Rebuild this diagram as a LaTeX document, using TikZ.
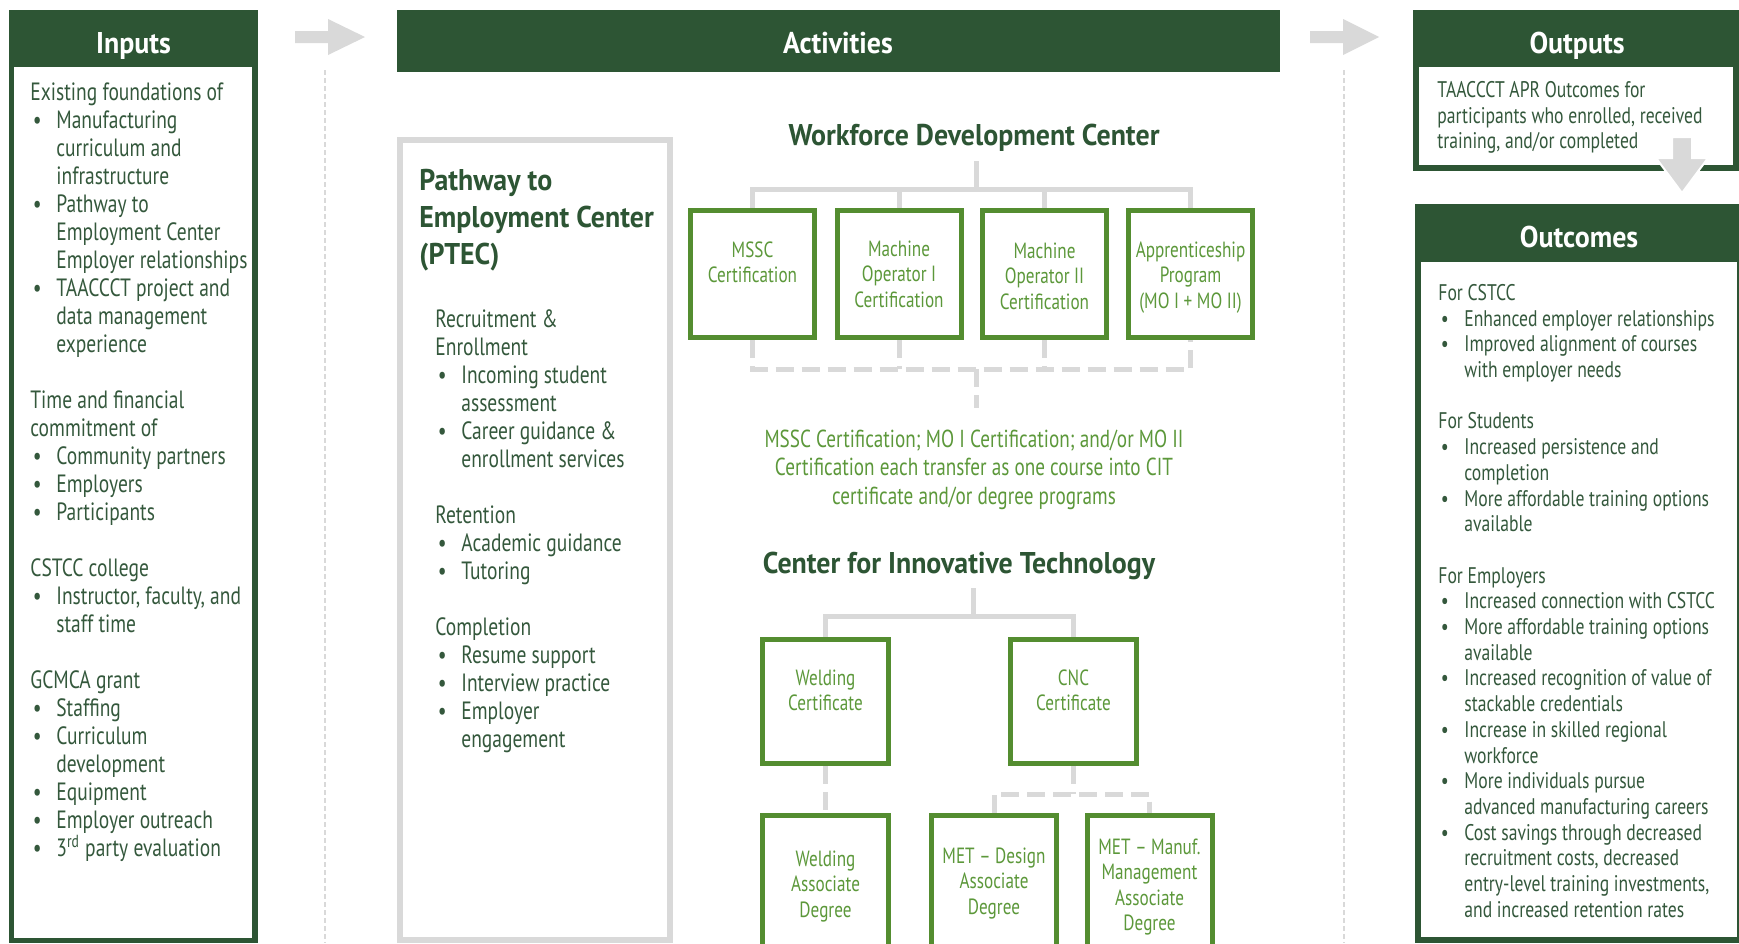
\documentclass[tikz,border=0pt]{standalone}
\usepackage{fontspec}
\setmainfont{PT Sans}[FakeStretch=0.78]
\newfontfamily\headfont{PT Sans}[FakeStretch=0.93]
\definecolor{hdrgreen}{RGB}{45,85,52}
\definecolor{txtgreen}{RGB}{52,88,60}
\definecolor{boxgreen}{RGB}{84,141,48}
\definecolor{ltgreen}{RGB}{92,152,58}
\definecolor{linegray}{RGB}{217,217,217}
% bullet and continuation indents for the lists
\newcommand{\bl}{\makebox[13pt][l]{\hspace{1.2pt}\textbullet}}
\newcommand{\cn}{\hspace*{13pt}}
\tikzset{
  hdr/.style={text=white, font=\headfont\bfseries\fontsize{15}{17}\selectfont, inner sep=0pt},
  body/.style={text=txtgreen, align=left, anchor=north west, inner sep=0pt, font=\fontsize{12.5}{14}\selectfont},
  smallbody/.style={body, font=\fontsize{11.3}{12.85}\selectfont},
  ctitle/.style={text=hdrgreen, font=\headfont\bfseries\fontsize{15}{17}\selectfont, inner sep=0pt},
  ptitle/.style={text=hdrgreen, align=left, anchor=north west, inner sep=0pt, font=\headfont\bfseries\fontsize{15}{18.5}\selectfont},
  certbox/.style={draw=boxgreen, line width=2.5pt, fill=white, inner sep=0pt},
  boxlbl/.style={text=ltgreen, align=center, anchor=north, inner sep=0pt, font=\fontsize{11}{12.75}\selectfont},
  midtext/.style={text=ltgreen, align=center, anchor=north, inner sep=0pt, font=\fontsize{12.3}{14.2}\selectfont},
  tree/.style={draw=linegray, line width=2.5pt},
  dashtree/.style={tree, dash pattern=on 9pt off 4pt},
  sep/.style={draw=linegray, line width=0.6pt, dash pattern=on 2.5pt off 1.5pt},
}
\begin{document}
\begin{tikzpicture}[x=0.5pt,y=-0.5pt]
\useasboundingbox (0,0) rectangle (1739,943);
\clip (0,0) rectangle (1739,943);
\fill[white] (0,0) rectangle (1739,943);

% column separators
\draw[sep] (325,70) -- (325,943);
\draw[sep] (1344,70) -- (1344,943);

% flow arrows between the columns
\fill[linegray] (295,31) -- (328,31) -- (328,19) -- (365,37) -- (328,55) -- (328,43) -- (295,43) -- cycle;
\fill[linegray] (1310,31) -- (1343,31) -- (1343,19) -- (1379,37) -- (1343,55) -- (1343,43) -- (1310,43) -- cycle;

% ---------------- Inputs ----------------
\fill[hdrgreen] (9,10) rectangle (258,943);
\fill[white] (14,67) rectangle (252,938);
\node[hdr, anchor=base] (inputsT) at (133.5,53) {Inputs};
\node[body] (inputsB) at (30,80) {\strut Existing foundations of\\
\bl Manufacturing\\
\cn curriculum and\\
\cn infrastructure\\
\bl Pathway to\\
\cn Employment Center\\
\cn Employer relationships\\
\bl TAACCCT project and\\
\cn data management\\
\cn experience\\[14pt]
Time and financial\\
commitment of\\
\bl Community partners\\
\bl Employers\\
\bl Participants\\[14pt]
CSTCC college\\
\bl Instructor, faculty, and\\
\cn staff time\\[14pt]
GCMCA grant\\
\bl Staffing\\
\bl Curriculum\\
\cn development\\
\bl Equipment\\
\bl Employer outreach\\
\bl 3\textsuperscript{rd} party evaluation};

% ---------------- Activities ----------------
\fill[hdrgreen] (397,10) rectangle (1280,72);
\node[hdr, anchor=base] (actT) at (838,53) {Activities};

% PTEC panel
\draw[linegray, line width=3pt] (400,140) rectangle (670,940);
\node[ptitle] (ptecT) at (419,164) {\strut Pathway to\\Employment Center\\(PTEC)};
\node[body] (ptecB) at (435,307) {\strut Recruitment \&\\
Enrollment\\
\bl Incoming student\\
\cn assessment\\
\bl Career guidance \&\\
\cn enrollment services\\[14pt]
Retention\\
\bl Academic guidance\\
\bl Tutoring\\[14pt]
Completion\\
\bl Resume support\\
\bl Interview practice\\
\bl Employer\\
\cn engagement};

% Workforce Development Center
\node[ctitle, anchor=base] (wdcT) at (974,145) {Workforce Development Center};
\node[certbox, minimum width=62pt, minimum height=63.5pt] (mssc) at (752.5,274) {};
\node[certbox, minimum width=62pt, minimum height=63.5pt] (mo1) at (899,274) {};
\node[certbox, minimum width=62pt, minimum height=63.5pt] (mo2) at (1044.5,274) {};
\node[certbox, minimum width=62pt, minimum height=63.5pt] (appr) at (1190.5,274) {};
\node[boxlbl] (msscL) at (752.5,239) {\strut MSSC\\Certification};
\node[boxlbl] (mo1L) at (899,238) {\strut Machine\\Operator I\\Certification};
\node[boxlbl] (mo2L) at (1044.5,240) {\strut Machine\\Operator II\\Certification};
\node[boxlbl] (apprL) at (1190.5,239) {\strut Apprenticeship\\Program\\(MO I + MO II)};

\coordinate (wdcStem) at (976,161);
\coordinate (wdcBar) at (976,189);
\draw[tree] (wdcStem) -- (wdcBar);
\draw[tree] (mssc.north) |- (wdcBar) -| (appr.north);
\draw[tree] (mo1.north) -- (mo1.north |- wdcBar);
\draw[tree] (mo2.north) -- (mo2.north |- wdcBar);

\coordinate (wdcJoin) at (976,369);
\coordinate (wdcEnd) at (976,408);
\draw[dashtree] (mssc.south) |- (wdcJoin) -| (appr.south);
\draw[dashtree] (mo1.south) -- (mo1.south |- wdcJoin);
\draw[dashtree] (mo2.south) -- (mo2.south |- wdcJoin);
\draw[dashtree] (wdcJoin) -- (wdcEnd);

\node[midtext] (transfer) at (974,427) {\strut MSSC Certification; MO I Certification; and/or MO II\\Certification each transfer as one course into CIT\\certificate and/or degree programs};

% Center for Innovative Technology
\node[ctitle, anchor=base] (citT) at (959,573) {Center for Innovative Technology};
\node[certbox, minimum width=63pt, minimum height=62pt] (weldC) at (825.5,701.5) {};
\node[certbox, minimum width=63pt, minimum height=62pt] (cncC) at (1073.5,701.5) {};
\node[certbox, minimum width=63pt, minimum height=67.5pt] (weldA) at (825.5,883) {};
\node[certbox, minimum width=62.5pt, minimum height=67.5pt] (metD) at (994,883) {};
\node[certbox, minimum width=62.5pt, minimum height=67.5pt] (metM) at (1149.5,883) {};
\node[boxlbl] (weldCL) at (825.5,667) {\strut Welding\\Certificate};
\node[boxlbl] (cncCL) at (1073.5,667) {\strut CNC\\Certificate};
\node[boxlbl] (weldAL) at (825.5,848) {\strut Welding\\Associate\\Degree};
\node[boxlbl] (metDL) at (994,845) {\strut MET -- Design\\Associate\\Degree};
\node[boxlbl] (metML) at (1149.5,836) {\strut MET -- Manuf.\\Management\\Associate\\Degree};

\coordinate (citStem) at (973,588);
\coordinate (citBar) at (973,616);
\draw[tree] (citStem) -- (citBar);
\draw[tree] (weldC.north) |- (citBar) -| (cncC.north);
\draw[dashtree] (weldC.south) -- (weldA.north);
\coordinate (cncJoin) at (1073.5,794);
\draw[dashtree] (cncC.south) -- (cncJoin);
\draw[dashtree] (metD.north) |- (cncJoin) -| (metM.north);

% ---------------- Outputs ----------------
\fill[hdrgreen] (1413,10) rectangle (1745,171);
\fill[white] (1419,67) rectangle (1733,165);
\node[hdr, anchor=base] (outT) at (1577,53) {Outputs};
\node[smallbody] (outB) at (1437,79) {\strut TAACCCT APR Outcomes for\\participants who enrolled, received\\training, and/or completed};

% arrow from outputs down to outcomes
\filldraw[fill=linegray, draw=white, line width=1pt] (1672,137) -- (1692,137) -- (1692,158) -- (1708,158) -- (1682,193) -- (1656,158) -- (1672,158) -- cycle;

% ---------------- Outcomes ----------------
\fill[hdrgreen] (1415,204) rectangle (1745,943);
\fill[white] (1421,262) rectangle (1737,937);
\node[hdr, anchor=base] (ocT) at (1579,247) {Outcomes};
\node[smallbody] (ocB) at (1438,282) {\strut For CSTCC\\
\bl Enhanced employer relationships\\
\bl Improved alignment of courses\\
\cn with employer needs\\[12.85pt]
For Students\\
\bl Increased persistence and\\
\cn completion\\
\bl More affordable training options\\
\cn available\\[12.85pt]
For Employers\\
\bl Increased connection with CSTCC\\
\bl More affordable training options\\
\cn available\\
\bl Increased recognition of value of\\
\cn stackable credentials\\
\bl Increase in skilled regional\\
\cn workforce\\
\bl More individuals pursue\\
\cn advanced manufacturing careers\\
\bl Cost savings through decreased\\
\cn recruitment costs, decreased\\
\cn entry-level training investments,\\
\cn and increased retention rates};
\end{tikzpicture}
\end{document}
